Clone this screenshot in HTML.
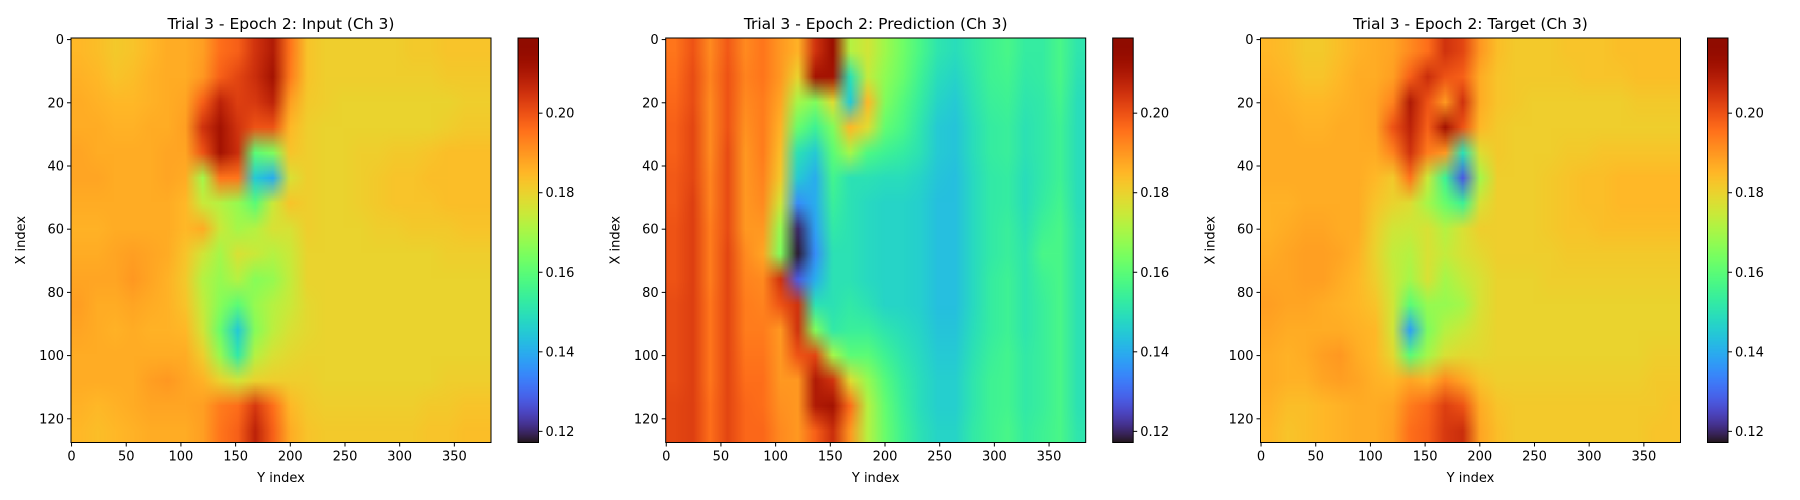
<!DOCTYPE html>
<html><head><meta charset="utf-8"><style>
html,body{margin:0;padding:0;background:#fff;}
#root{position:relative;width:1800px;height:500px;overflow:hidden;background:#fff;font-family:"DejaVu Sans","Liberation Sans",sans-serif;}
canvas.hm{position:absolute;image-rendering:auto;}
svg{position:absolute;left:0;top:0;}
</style></head><body>
<div id="root">
<svg id="ov" width="1800" height="500"></svg>
</div>
<script>
// value scale: grid values are in thousandths of the data unit
const SCALE = 1000;
const vmin = 0.1172, vmax = 0.2189;
const xTicks = [0,50,100,150,200,250,300,350];
const yTicks = [0,20,40,60,80,100,120];
const cbTicks = [0.12,0.14,0.16,0.18,0.20];
const nCols = 384, nRows = 128;

const inputGrid = [
[185,184,182,183,185,187,187,189,196,198,205,210,195,183,181,181,181,181,181,182,182,183,183,183],
[186,185,183,184,186,187,187,190,198,202,206,212,194,183,181,181,181,181,181,181,181,182,182,182],
[187,186,185,185,186,187,188,198,208,203,204,208,189,182,181,180,180,180,180,180,180,180,181,181],
[187,187,186,186,187,187,189,205,212,205,200,200,185,181,180,180,180,180,180,180,180,181,182,182],
[188,187,187,187,187,188,188,200,212,206,160,165,183,181,180,180,181,181,182,182,183,184,184,184],
[188,188,187,187,187,188,187,170,195,195,145,140,177,181,180,180,181,182,183,183,184,184,184,184],
[187,187,187,187,187,187,185,175,172,168,160,175,183,181,180,180,181,182,183,183,183,184,184,184],
[186,186,187,187,187,187,185,187,175,170,172,177,177,181,180,180,180,181,181,182,182,182,183,183],
[187,187,188,189,188,187,183,176,170,177,175,172,175,180,180,180,180,180,180,180,180,181,181,181],
[188,188,188,190,188,186,182,172,168,172,166,168,174,180,180,180,180,180,180,180,180,180,180,180],
[189,187,187,188,187,186,183,174,166,160,168,172,175,179,180,180,180,180,180,180,180,180,180,180],
[188,187,186,187,186,186,185,176,162,145,166,173,177,179,180,180,180,180,180,180,180,180,180,180],
[187,187,187,187,187,187,187,181,168,152,172,177,179,180,180,180,180,180,180,180,180,180,180,180],
[187,187,187,187,189,190,188,186,180,176,180,181,181,181,180,180,180,180,180,180,180,181,181,181],
[186,185,186,187,188,188,188,189,194,196,204,196,185,182,181,181,181,181,181,181,182,182,183,183],
[185,184,185,186,187,187,187,189,195,198,208,198,187,183,182,182,182,182,182,182,183,183,184,184]
];
const predGrid = [
[195,200,192,199,192,195,190,186,205,214,172,176,169,163,157,151,149,152,155,157,153,153,157,151],
[196,201,193,200,193,195,190,180,212,212,150,174,167,162,155,149,147,151,155,156,152,153,157,150],
[197,201,192,200,192,194,188,170,165,178,145,185,165,159,153,147,145,150,154,155,151,152,156,149],
[198,202,192,200,191,194,186,162,155,165,185,178,161,157,151,145,144,149,153,154,150,152,155,149],
[198,202,192,201,190,194,184,150,145,160,170,158,155,153,150,145,144,149,153,154,150,152,155,149],
[199,202,193,201,190,193,182,145,140,156,150,150,149,149,147,144,143,148,152,153,149,152,155,149],
[199,203,193,201,190,192,176,135,140,154,150,148,147,147,146,143,143,148,152,153,149,153,156,149],
[200,203,194,201,190,190,168,120,138,152,150,148,147,147,146,143,143,148,152,154,150,155,157,150],
[200,203,194,202,192,188,165,118,135,150,150,148,147,147,146,143,143,148,152,154,151,157,157,150],
[200,203,194,202,193,192,205,128,140,150,150,148,147,147,146,143,143,148,153,155,151,155,157,150],
[201,203,195,202,194,193,200,205,150,150,152,150,147,147,146,143,143,148,153,155,151,154,157,150],
[201,203,195,202,194,194,190,205,165,152,154,154,151,149,147,144,144,149,153,155,151,154,157,150],
[201,203,195,202,195,195,190,200,202,170,160,160,155,151,148,145,145,150,154,156,152,154,157,150],
[201,203,195,202,196,196,190,190,210,205,178,168,159,153,149,146,146,151,155,156,152,154,157,150],
[202,203,196,202,197,196,191,190,210,212,196,172,161,154,149,146,146,151,155,156,152,154,157,150],
[202,203,196,202,197,197,192,190,198,206,190,172,162,155,150,147,147,152,155,157,153,155,157,151]
];
const targetGrid = [
[185,184,182,182,184,186,187,188,192,196,205,202,190,184,182,182,182,183,183,183,184,184,184,184],
[186,185,183,183,185,187,187,189,198,206,200,198,187,183,182,182,182,182,183,183,183,184,184,184],
[187,186,185,185,186,187,188,193,210,200,190,205,187,183,182,181,181,181,181,181,181,182,182,182],
[187,187,186,186,187,187,188,200,208,198,212,200,185,182,181,181,181,181,181,181,181,181,181,181],
[187,187,187,187,187,187,187,193,205,194,190,150,178,182,181,181,181,182,182,183,183,183,183,183],
[187,187,187,187,187,187,185,182,195,175,155,128,170,181,181,181,182,183,184,184,185,185,185,185],
[186,186,187,187,187,187,183,180,178,170,162,155,177,181,181,181,182,183,184,184,185,185,185,185],
[186,187,188,188,187,187,181,176,175,177,172,177,181,181,181,181,182,183,183,184,184,184,184,184],
[187,188,189,189,188,186,180,174,172,177,174,177,179,181,181,181,181,182,182,182,182,182,182,182],
[188,188,189,189,187,185,181,175,170,177,170,174,177,180,180,180,181,181,181,181,181,181,181,181],
[189,188,188,187,186,185,183,176,160,168,168,170,177,180,180,180,180,180,180,180,180,180,180,180],
[188,187,187,187,187,186,185,176,138,165,172,175,178,180,180,180,180,180,180,180,180,180,180,180],
[187,186,187,189,190,187,185,179,160,170,177,179,179,180,180,180,180,180,180,180,180,180,181,181],
[187,186,186,188,189,188,186,185,188,186,192,188,183,181,181,181,181,181,181,181,181,181,182,182],
[186,184,184,185,186,187,187,188,194,197,203,200,187,183,182,182,182,182,182,182,182,182,182,183],
[185,183,184,185,186,187,187,189,196,198,204,206,188,184,182,182,182,182,182,182,182,182,183,183]
];

function turbo(t){
  t=Math.max(0,Math.min(1,t));
  const r=0.13572138+t*(4.61539260+t*(-42.66032258+t*(132.13108234+t*(-152.94239396+t*59.28637943))));
  const g=0.09140261+t*(2.19418839+t*(4.84296658+t*(-14.18503333+t*(4.27729857+t*2.82956604))));
  const b=0.10667330+t*(12.64194608+t*(-60.58204836+t*(110.36276771+t*(-89.90310912+t*27.34824973))));
  return [r,g,b].map(v=>Math.round(Math.max(0,Math.min(1,v))*255));
}
const NS='http://www.w3.org/2000/svg';
const root=document.getElementById('root');
const ov=document.getElementById('ov');
function sv(tag,attrs,txt){const e=document.createElementNS(NS,tag);for(const k in attrs)e.setAttribute(k,attrs[k]);if(txt!==undefined)e.textContent=txt;ov.appendChild(e);return e;}

const TOP=38, H=404.5, W=420, CBW=20.5, CBOFF=447;
const panels=[
 {key:'input',title:'Trial 3 - Epoch 2: Input (Ch 3)',grid:inputGrid,left:71},
 {key:'prediction',title:'Trial 3 - Epoch 2: Prediction (Ch 3)',grid:predGrid,left:665.7},
 {key:'target',title:'Trial 3 - Epoch 2: Target (Ch 3)',grid:targetGrid,left:1260.5}
];
panels.forEach(p=>{
  const L=p.left;
  const xs=v=>L+(v+0.5)*W/nCols;
  const ys=v=>TOP+(v+0.5)*H/nRows;
  const g=p.grid, R=g.length, C=g[0].length;
  const cv=document.createElement('canvas');
  cv.className='hm';cv.width=C;cv.height=R;
  cv.style.left=L+'px';cv.style.top=TOP+'px';cv.style.width=W+'px';cv.style.height=H+'px';
  
  
  const ctx=cv.getContext('2d');const img=ctx.createImageData(C,R);
  for(let r=0;r<R;r++)for(let c=0;c<C;c++){
    const col=turbo((g[r][c]/SCALE-vmin)/(vmax-vmin));const i=(r*C+c)*4;
    img.data[i]=col[0];img.data[i+1]=col[1];img.data[i+2]=col[2];img.data[i+3]=255;
  }
  ctx.putImageData(img,0,0);
  root.insertBefore(cv,ov);
  const cb=document.createElement('canvas');
  cb.className='hm';cb.width=1;cb.height=256;
  cb.style.left=(L+CBOFF)+'px';cb.style.top=TOP+'px';cb.style.width=CBW+'px';cb.style.height=H+'px';
  
  
  const cx=cb.getContext('2d');const ci=cx.createImageData(1,256);
  for(let k=0;k<256;k++){const col=turbo(1-k/255);ci.data[k*4]=col[0];ci.data[k*4+1]=col[1];ci.data[k*4+2]=col[2];ci.data[k*4+3]=255;}
  cx.putImageData(ci,0,0);root.insertBefore(cb,ov);
  const fr=sv('rect',{x:L,y:TOP,width:W,height:H,fill:'none',stroke:'#000','stroke-width':1});
  
  
  const cf=sv('rect',{x:L+CBOFF,y:TOP,width:CBW,height:H,fill:'none',stroke:'#000','stroke-width':1});
  
  
  const t=sv('text',{x:L+W/2,y:TOP-9,'text-anchor':'middle','font-size':'15.5px',fill:'#000'},p.title);
  
  
  xTicks.forEach(v=>{
    const x=xs(v);
    const tk=sv('line',{x1:x,x2:x,y1:TOP+H,y2:TOP+H+4,stroke:'#000','stroke-width':1});
    
    
    const lb=sv('text',{x:x,y:TOP+H+18,'text-anchor':'middle','font-size':'13px'},String(v));
    
    
  });
  yTicks.forEach(v=>{
    const y=ys(v);
    const tk=sv('line',{x1:L-4,x2:L,y1:y,y2:y,stroke:'#000','stroke-width':1});
    
    
    const lb=sv('text',{x:L-7,y:y+4.5,'text-anchor':'end','font-size':'13px'},String(v));
    
    
  });
  const xl=sv('text',{x:L+W/2,y:482,'text-anchor':'middle','font-size':'13px'},'Y index');
  
  
  const yl=sv('text',{x:0,y:0,'text-anchor':'middle','font-size':'13px',transform:`translate(${L-46},${TOP+H/2}) rotate(-90)`},'X index');
  
  
  cbTicks.forEach(v=>{
    const y=TOP+(vmax-v)/(vmax-vmin)*H;const x0=L+CBOFF+CBW;
    const tk=sv('line',{x1:x0,x2:x0+4,y1:y,y2:y,stroke:'#000','stroke-width':1});
    
    
    const lb=sv('text',{x:x0+7,y:y+4.5,'font-size':'13px'},v.toFixed(2));
    
    
  });
});
</script>
</body></html>
